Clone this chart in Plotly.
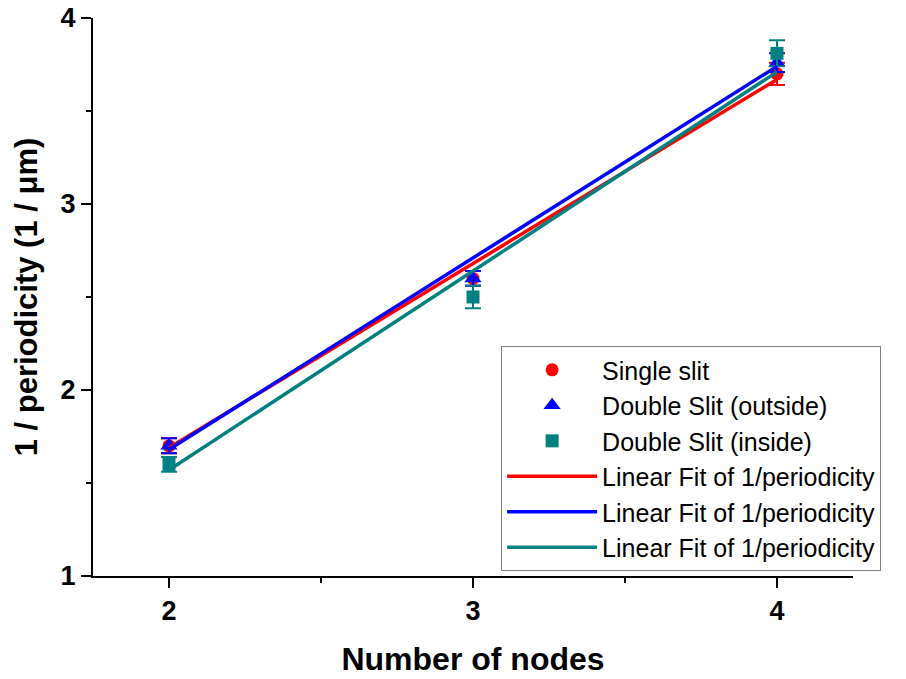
import plotly.graph_objects as go

nodes = [2, 3, 4]
single = [1.70, 2.60, 3.70]
single_err = [0.04, 0.04, 0.06]
dbl_out = [1.70, 2.60, 3.76]
dbl_out_err = [0.04, 0.04, 0.05]
dbl_in = [1.60, 2.50, 3.81]
dbl_in_err = [0.04, 0.06, 0.07]

fit_x = [2, 4]
fit_single = [1.69, 3.67]
fit_out = [1.68, 3.74]
fit_in = [1.57, 3.71]

RED = "#FF0000"
BLUE = "#0000FF"
TEAL = "#008080"
FONT = "Arial, Liberation Sans, sans-serif"

fig = go.Figure()

fig.add_trace(go.Scatter(x=nodes, y=single, mode="markers", name="Single slit",
                         marker=dict(symbol="circle", size=13, color=RED),
                         error_y=dict(type="data", array=single_err, color=RED, thickness=2, width=8)))
fig.add_trace(go.Scatter(x=nodes, y=dbl_out, mode="markers", name="Double Slit (outside)",
                         marker=dict(symbol="triangle-up", size=15, color=BLUE),
                         error_y=dict(type="data", array=dbl_out_err, color=BLUE, thickness=2, width=8)))
fig.add_trace(go.Scatter(x=nodes, y=dbl_in, mode="markers", name="Double Slit (inside)",
                         marker=dict(symbol="square", size=13, color=TEAL),
                         error_y=dict(type="data", array=dbl_in_err, color=TEAL, thickness=2, width=8)))
fig.add_trace(go.Scatter(x=fit_x, y=fit_single, mode="lines", name="Linear Fit of 1/periodicity",
                         line=dict(color=RED, width=3.5)))
fig.add_trace(go.Scatter(x=fit_x, y=fit_out, mode="lines", name="Linear Fit of 1/periodicity",
                         line=dict(color=BLUE, width=3.5)))
fig.add_trace(go.Scatter(x=fit_x, y=fit_in, mode="lines", name="Linear Fit of 1/periodicity",
                         line=dict(color=TEAL, width=3.5)))

fig.update_layout(
    width=906, height=679,
    margin=dict(l=93, r=53, t=18, b=103),
    plot_bgcolor="white", paper_bgcolor="white",
    font=dict(family=FONT, color="black"),
    showlegend=True,
    legend=dict(x=0.537, y=0.412, xanchor="left", yanchor="top",
                bgcolor="white", bordercolor="#808080", borderwidth=1,
                font=dict(size=25, family=FONT), itemwidth=90,
                tracegroupgap=0),
)
fig.update_xaxes(
    range=[1.75, 4.25], tickvals=[2, 3, 4], automargin=False,
    showline=True, linecolor="black", linewidth=2, mirror=False,
    ticks="outside", ticklen=10, tickwidth=2, tickcolor="black",
    tickfont=dict(size=27, family=FONT, weight="bold"),
    minor=dict(tickvals=[2.5, 3.5], ticks="outside", ticklen=5, tickwidth=2, tickcolor="black"),
    showgrid=False, zeroline=False,
    title=dict(text="Number of nodes", font=dict(size=32, family=FONT, weight="bold"), standoff=22),
)
fig.update_yaxes(
    range=[1, 4], tickvals=[1, 2, 3, 4], automargin=False,
    showline=True, linecolor="black", linewidth=2, mirror=False,
    ticks="outside", ticklen=10, tickwidth=2, tickcolor="black",
    tickfont=dict(size=27, family=FONT, weight="bold"),
    minor=dict(tickvals=[1.5, 2.5, 3.5], ticks="outside", ticklen=5, tickwidth=2, tickcolor="black"),
    showgrid=False, zeroline=False,
    title=dict(text="1 / periodicity (1 / μm)", font=dict(size=31, family=FONT, weight="bold"), standoff=14),
)

fig.write_html("out.html")
